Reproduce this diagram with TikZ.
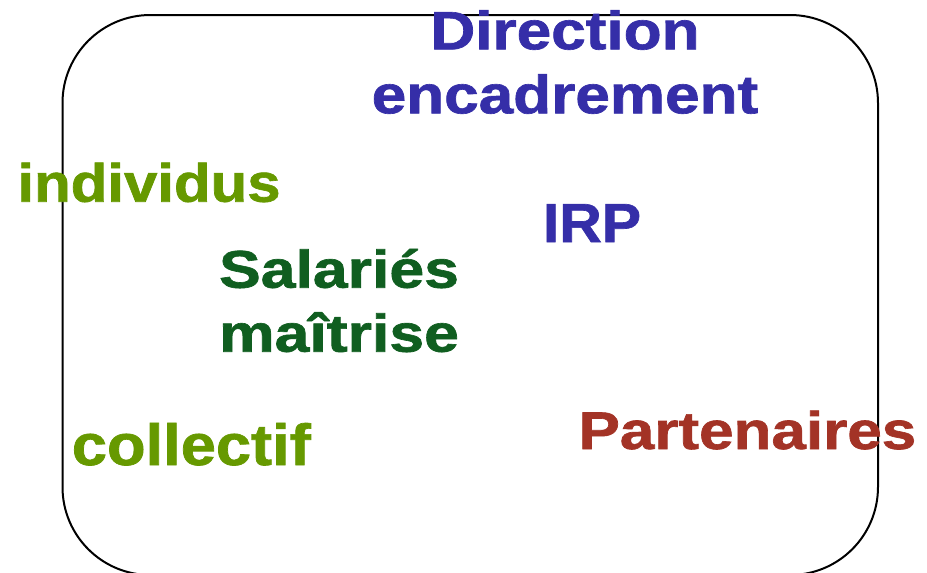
\documentclass[tikz,border=0pt]{standalone}
\usepackage{fontspec}
\setmainfont{Liberation Sans}[BoldFeatures={FakeBold=1.2}]
\usepackage{tikz}
\definecolor{dirblue}{RGB}{53,46,168}
\definecolor{salgreen}{RGB}{16,94,32}
\definecolor{olive}{RGB}{102,153,0}
\definecolor{partred}{RGB}{163,51,38}
\tikzset{%
  roundbox/.style={draw=black,line width=2pt,rounded corners=88pt},
  lbl/.style 2 args={inner sep=0pt,anchor=base,align=center,xscale=#2,
    font=\bfseries\fontsize{#1}{64}\selectfont}
}

\begin{document}
\begin{tikzpicture}[x=1pt,y=-1pt]
    \useasboundingbox (0,0) rectangle (927,573);
    \draw[roundbox] (62.5,15) rectangle (878,575);
    \path
      (565,113.3) node (dir)[lbl={54}{1.15},text=dirblue]{Direction\\encadrement}
      (149,201.7) node (indiv)[lbl={54}{1.11},text=olive]{individus}
      (592,242) node (irp)[lbl={55}{1.07},text=dirblue]{IRP}
      (339,351.7) node (sal)[lbl={53}{1.18},text=salgreen]{Salariés\\maîtrise}
      (191.3,465) node (coll)[lbl={58}{1.09},text=olive]{collectif}
      (747.4,449) node (part)[lbl={53}{1.17},text=partred]{Partenaires};
  \end{tikzpicture}
\end{document}
